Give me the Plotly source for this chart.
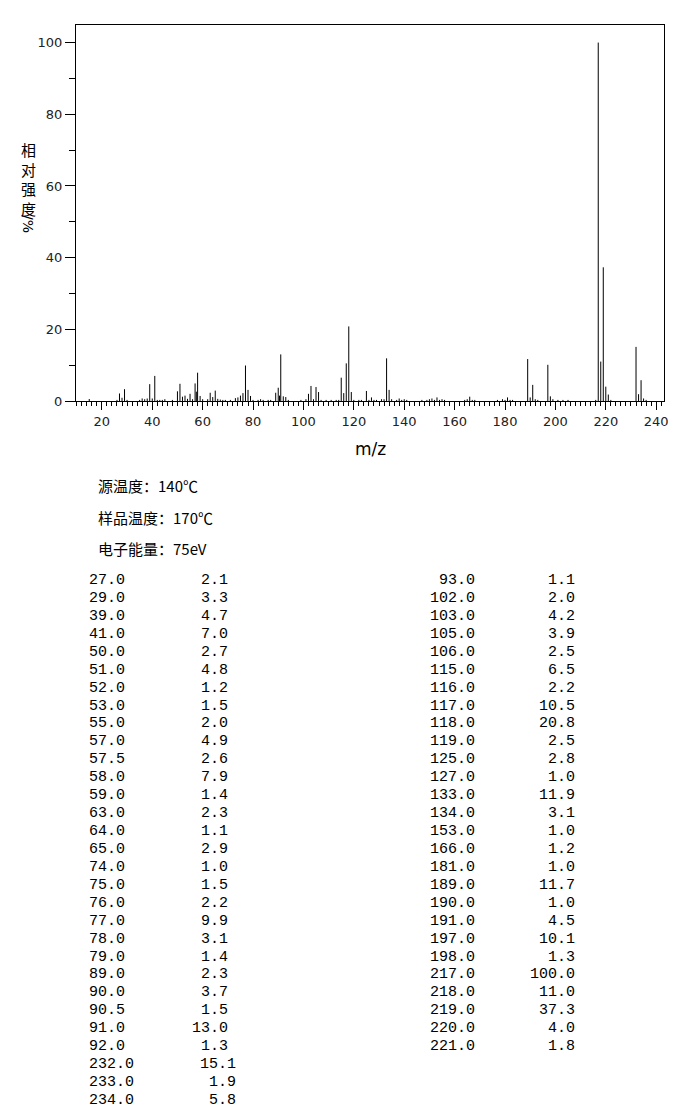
import plotly.graph_objects as go

# Listed peaks (m/z, relative intensity %)
mz_main = [27.0, 29.0, 39.0, 41.0, 50.0, 51.0, 52.0, 53.0, 55.0, 57.0, 57.5, 58.0, 59.0,
           63.0, 64.0, 65.0, 74.0, 75.0, 76.0, 77.0, 78.0, 79.0, 89.0, 90.0, 90.5, 91.0, 92.0,
           93.0, 102.0, 103.0, 105.0, 106.0, 115.0, 116.0, 117.0, 118.0, 119.0, 125.0, 127.0,
           133.0, 134.0, 153.0, 166.0, 181.0, 189.0, 190.0, 191.0, 197.0, 198.0, 217.0, 218.0,
           219.0, 220.0, 221.0, 232.0, 233.0, 234.0]
int_main = [2.1, 3.3, 4.7, 7.0, 2.7, 4.8, 1.2, 1.5, 2.0, 4.9, 2.6, 7.9, 1.4,
            2.3, 1.1, 2.9, 1.0, 1.5, 2.2, 9.9, 3.1, 1.4, 2.3, 3.7, 1.5, 13.0, 1.3,
            1.1, 2.0, 4.2, 3.9, 2.5, 6.5, 2.2, 10.5, 20.8, 2.5, 2.8, 1.0,
            11.9, 3.1, 1.0, 1.2, 1.0, 11.7, 1.0, 4.5, 10.1, 1.3, 100.0, 11.0,
            37.3, 4.0, 1.8, 15.1, 1.9, 5.8]

# Minor (unlisted) peaks
mz_minor = [15, 26, 28, 30, 35, 36, 37, 38, 40, 42, 43, 44, 45, 48, 54, 56, 60, 62, 66, 67,
            68, 69, 71, 73, 80, 82, 83, 84, 86, 87, 94, 99, 101, 104, 107, 109, 111, 113, 114,
            120, 122, 123, 126, 128, 129, 131, 132, 135, 137, 138, 139, 140, 141, 147, 149,
            150, 151, 152, 154, 155, 156, 164, 165, 167, 168, 177, 179, 180, 182, 183, 192,
            193, 199, 201, 203, 205, 216, 222, 235, 236]
int_minor = [0.55, 0.3, 0.9, 0.3, 0.3, 0.7, 0.5, 0.7, 0.7, 0.3, 0.3, 0.3, 0.5, 0.3, 0.6, 0.5,
             0.5, 0.5, 0.6, 0.4, 0.3, 0.3, 0.3, 0.8, 0.3, 0.3, 0.5, 0.3, 0.3, 0.3, 0.3, 0.3,
             0.5, 0.5, 0.3, 0.3, 0.3, 0.3, 0.3, 0.3, 0.3, 0.3, 0.3, 0.3, 0.3, 0.5, 0.5, 0.5,
             0.3, 0.7, 0.3, 0.5, 0.3, 0.3, 0.3, 0.5, 0.7, 0.3, 0.3, 0.5, 0.3, 0.3, 0.5, 0.3,
             0.3, 0.3, 0.5, 0.3, 0.3, 0.3, 0.5, 0.3, 0.5, 0.3, 0.3, 0.3, 0.3, 0.3, 0.7, 0.3]

header_lines = ["源温度：140℃", "样品温度：170℃", "电子能量：75eV"]
y_title_chars = ["相", "对", "强", "度"]
y_title_unit = "/%"
x_title = "m/z"

# stems
xs, ys = [], []
for m, v in list(zip(mz_main, int_main)) + list(zip(mz_minor, int_minor)):
    xs += [m, m, None]
    ys += [0, v, None]

fig = go.Figure()
fig.add_trace(go.Scatter(x=xs, y=ys, mode="lines", line=dict(color="black", width=1),
                         hoverinfo="skip", showlegend=False))

OFF = 8  # page body margin in the browser
W, H = 680 - OFF, 1106 - OFF
# plot area in reference (window) pixels
L, R, T, B = 76, 664, 25, 401
PW, PH = R - L, B - T


def px(xp):
    return (xp - L) / PW


def py(yp):
    return (B - yp) / PH


ann = []
# y title
ann.append(dict(text="<br>".join(y_title_chars), x=px(28), y=py(179), xref="paper",
                yref="paper", xanchor="center", yanchor="middle", showarrow=False,
                font=dict(family="Noto Sans CJK SC", size=15, color="black")))
ann.append(dict(text=y_title_unit, x=px(28), y=py(224), xref="paper", yref="paper",
                xanchor="center", yanchor="middle", showarrow=False, textangle=90,
                font=dict(family="DejaVu Sans", size=14, color="black")))
# x title
ann.append(dict(text=x_title, x=px(370), y=py(449), xref="paper", yref="paper",
                xanchor="center", yanchor="middle", showarrow=False,
                font=dict(family="DejaVu Sans", size=17, color="black")))
# header lines
for i, t in enumerate(header_lines):
    ann.append(dict(text=t, x=px(96), y=py(486 + 31 * i), xref="paper", yref="paper",
                    xanchor="left", yanchor="middle", showarrow=False,
                    font=dict(family="Noto Sans CJK SC", size=15, color="black")))

# table
mono = dict(family="Liberation Mono", size=15, color="black")
n_col = 27
left_rows = list(range(0, n_col)) + list(range(2 * n_col, len(mz_main)))
right_rows = list(range(n_col, 2 * n_col))
row0, dy = 580.5, 17.93
for r, idx in enumerate(left_rows):
    yy = py(row0 + dy * r)
    extra = idx >= 2 * n_col
    ann.append(dict(text=f"{mz_main[idx]:.1f}", x=px(87), y=yy, xref="paper", yref="paper",
                    xanchor="left", yanchor="middle", showarrow=False, font=mono))
    ann.append(dict(text=f"{int_main[idx]:.1f}", x=px(238 if extra else 230), y=yy,
                    xref="paper", yref="paper", xanchor="right", yanchor="middle",
                    showarrow=False, font=mono))
for r, idx in enumerate(right_rows):
    yy = py(row0 + dy * r)
    ann.append(dict(text=f"{mz_main[idx]:.1f}", x=px(477), y=yy, xref="paper", yref="paper",
                    xanchor="right", yanchor="middle", showarrow=False, font=mono))
    ann.append(dict(text=f"{int_main[idx]:.1f}", x=px(577), y=yy, xref="paper", yref="paper",
                    xanchor="right", yanchor="middle", showarrow=False, font=mono))

tickfont = dict(family="DejaVu Sans", size=13, color="#222")
fig.update_layout(
    width=W, height=H,
    margin=dict(l=L - OFF, r=680 - R, t=T - OFF, b=1106 - B, pad=0),
    plot_bgcolor="white", paper_bgcolor="white",
    annotations=ann,
    xaxis=dict(range=[9.74, 243.1], tick0=0, dtick=20, ticks="outside", ticklen=8,
               tickcolor="black", showline=True, linecolor="black", linewidth=1, mirror=True,
               showgrid=False, zeroline=False, tickfont=tickfont,
               minor=dict(dtick=2, tick0=0, ticks="outside", ticklen=4, tickcolor="black",
                          showgrid=False)),
    yaxis=dict(range=[0, 104.9], tick0=0, dtick=20, ticks="outside", ticklen=10,
               tickcolor="black", showline=True, linecolor="black", linewidth=1, mirror=True,
               showgrid=False, zeroline=False, tickfont=tickfont,
               minor=dict(dtick=10, tick0=0, ticks="outside", ticklen=6, tickcolor="black",
                          showgrid=False)),
)

fig.write_html("out.html")
